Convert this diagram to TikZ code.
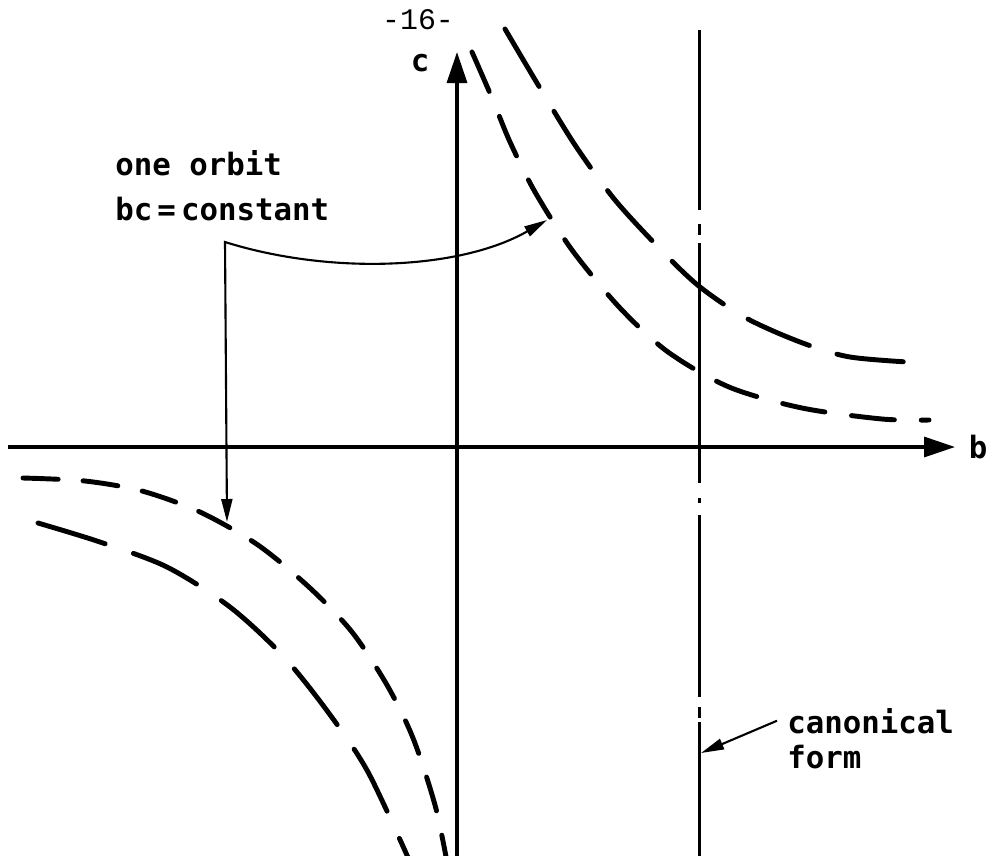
\documentclass[tikz,border=0pt]{standalone}
\usepackage{fontspec}
\usetikzlibrary{arrows.meta}
\newfontfamily\leroy{DejaVu Sans Mono}
\newfontfamily\typer{Liberation Mono}
\tikzset{
  >={Triangle[length=4.6mm,width=2.2mm]},
  axis/.style={line width=1.9pt,-{Triangle[length=6.2mm,width=4mm]}},
  orbit/.style={line width=2.8pt,line cap=round,dash pattern=#1},
  callout/.style={line width=1.2pt},
  canon line/.style={line width=1.7pt,
    dash pattern=on 102.4pt off 8pt on 6.3pt off 4.6pt on 136.6pt off 8.5pt
      on 2.8pt off 6.8pt on 103.6pt off 5.7pt on 6.3pt off 2.3pt on 90pt off 10pt},
  lettering/.style={font=\leroy\bfseries\fontsize{17.5}{21}\selectfont,inner sep=0pt},
}

\begin{document}
\begin{tikzpicture}[x=0.2mm,y=-0.2mm]
  \useasboundingbox (0,0) rectangle (992,855);
  \node[font=\typer\fontsize{17}{19}\selectfont] (page) at (418,20) {-16-};
  % axes
  \coordinate (b start) at (8,447);
  \coordinate (b end) at (955,447);
  \coordinate (c start) at (457,860);
  \coordinate (c end) at (457,52);
  \draw[axis] (b start) -- (b end);
  \draw[axis] (c start) -- (c end);
  \node[lettering] (b) at (978,447) {b};
  \node[lettering] (c) at (420,63) {c};
  % canonical form line
  \coordinate (canon top) at (699,30);
  \coordinate (canon bottom) at (699,860);
  \draw[canon line] (canon top) -- (canon bottom);
  % orbits
  \draw[orbit=on 38pt off 16.5pt] plot[smooth] coordinates {(505,29) (537,83) (575,145)
    (615,200) (663,252) (700,287) (746,318) (800,342) (850,357) (924,363)};
  \draw[orbit=on 24.5pt off 15.3pt] plot[smooth] coordinates {(472,52) (492,98) (510,142)
    (535,192) (572,250) (620,308) (668,352) (729,387) (802,408) (882,419) (929,420)};
  \draw[orbit=on 20pt off 14.2pt] plot[smooth] coordinates {(23,478) (85,481) (142,491)
    (200,512) (258,545) (310,588) (352,632) (387,685) (413,738) (435,805) (447,862)};
  \draw[orbit=on 40pt off 17pt] plot[smooth] coordinates {(38,523) (100,542) (167,567)
    (230,607) (283,656) (328,712) (368,772) (410,862)};
  % labels
  \node[lettering,anchor=base west] (one) at (115,175) {one orbit};
  \node[lettering,anchor=base west] (bc) at (115,220) {bc\,=\,constant};
  \coordinate (bend) at (225,242);
  \coordinate (hit up) at (547,220);
  \coordinate (hit low) at (227,522);
  \draw[callout,<->] (hit low) -- (bend) .. controls (330,275) and (460,270) .. (hit up);
  \node[lettering,anchor=base west] (canon) at (787,733) {canonical};
  \node[lettering,anchor=base west] (form) at (787,768) {form};
  \coordinate (canon hit) at (701,753);
  \draw[callout,->] ([xshift=-2mm]canon.west) -- (canon hit);
\end{tikzpicture}
\end{document}
